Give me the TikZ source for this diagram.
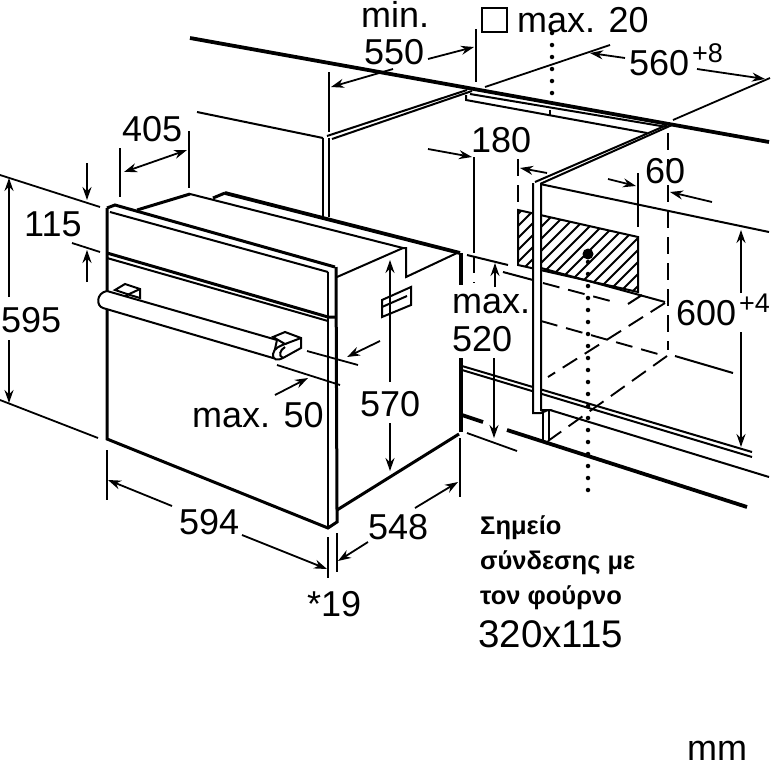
\documentclass[tikz,border=0pt]{standalone}
\usepackage{fontspec}
\setmainfont{Liberation Sans}
\usepackage{tikz}
\usetikzlibrary{arrows.meta}
\tikzset{
  wall/.style={line width=3.8pt},
  edge/.style={line width=3pt},
  fine/.style={line width=2pt},
  dimline/.style={line width=1.8pt},
  dimend/.style={dimline, -{Stealth[length=13pt,width=9pt]}},
  dimboth/.style={dimline, {Stealth[length=13pt,width=9pt]}-{Stealth[length=13pt,width=9pt]}},
  gapline/.style={line width=1.9pt, dash pattern=on 17pt off 9pt},
  dotline/.style={line width=4.5pt, line cap=round, dash pattern=on 0pt off 12pt},
  size/.style={inner sep=0pt, anchor=base west, font=\fontsize{36}{36}\selectfont},
  small/.style={inner sep=0pt, anchor=base west, font=\fontsize{27}{27}\selectfont},
  note/.style={inner sep=0pt, anchor=base west, font=\fontsize{25.5}{25.5}\selectfont\bfseries},
}
\begin{document}
\begin{tikzpicture}[x=1pt, y=-1pt]
\useasboundingbox (0,0) rectangle (772,769);
\fill[white] (0,0) rectangle (772,769);
\begin{scope}
\clip (518,210) -- (638,237) -- (638,292) -- (518,265) -- cycle;
\foreach \i in {0,...,18} {
  \draw[fine] (420+12*\i,300) -- (420+12*\i+100,200);
}
\end{scope}
\draw[fine] (518,210) -- (638,237) -- (638,292) -- (518,265) -- cycle;
\fill (588,254) circle (5.5);
\draw[dotline] (588,262) -- (588,492);
\draw[dotline] (552,33) -- (552,95);
\draw[wall] (190,38) -- (769,142);
\draw[fine] (323,138) -- (323,217);
\draw[fine] (329,138) -- (329,217);
\draw[fine] (197,112) -- (323,138);
\draw[fine] (327,136) -- (467,90);
\draw[fine] (332,139) -- (472,91);
\draw[fine] (466,95) -- (466,100) -- (647,133);
\draw[fine] (470,94) -- (667,127);
\draw[fine] (550,110) -- (550,116);
\draw[fine] (535,182) -- (667,125);
\draw[fine] (540,184) -- (672,125);
\draw[fine] (540,184) -- (769,232);
\draw[wall] (225,193) -- (460,253);
\draw[edge] (213,198) -- (225,193);
\draw[fine] (541,268) -- (665,302);
\draw[gapline] (541,321) -- (665,356);
\draw[fine] (675,356) -- (733,373);
\draw[gapline] (665,303) -- (548,377);
\draw[gapline] (667,356) -- (548,441);
\draw[gapline] (668,133) -- (668,350);
\draw[gapline] (518,159) -- (518,205);
\draw[fine] (467,255) -- (508,265);
\draw[fine] (503,272) -- (533,280);
\draw[gapline] (543,283) -- (618,303);
\draw[fine] (628,304) -- (642,295);
\draw[fine] (462,366) -- (752,452);
\draw[fine] (462,370) -- (752,457);
\draw[fine] (550,410) -- (769,477);
\draw[wall] (462,415) -- (483,422);
\draw[wall] (507,430) -- (747,507);
\draw[wall] (461,253) -- (461,285);
\draw[wall] (461,358) -- (461,432);
\draw[fine, fill=white] (533,183) -- (533,413) -- (541,413) -- (548,410) -- (541,410) -- (541,183);
\draw[fine] (543,413) -- (543,440);
\draw[fine] (549,410) -- (549,441);
\draw[fine] (190,194) -- (403,248) -- (406,248) -- (406,277) -- (457,253);
\draw[edge] (137,210) -- (190,194);
\draw[fine] (337,277) -- (403,248);
\draw[fine] (382,300) -- (411,287) -- (411,305) -- (382,317) -- cycle;
\draw[fine] (382,307) -- (407,296);
\draw[edge] (107,208) -- (115,205) -- (335,267);
\draw[edge] (107,208) -- (107,439) -- (328,528) -- (337,522) -- (337,510);
\draw[edge] (337,510) -- (459,434);
\draw[fine] (110,212) -- (328,272);
\draw[fine] (328,272) -- (328,528);
\draw[edge] (336,267) -- (337,510);
\draw[edge] (107,253) -- (328,317) -- (336,317);
\draw[fine] (107,258) -- (328,321);
\draw[fine, fill=white] (107,291) -- (277,340) -- (273,358) -- (103,308) .. controls (96,306) and (96,293) .. (107,291) -- cycle;
\draw[fine, fill=white] (115,290) -- (125,284) -- (140,289) -- (140,298) -- (130,295) -- cycle;
\draw[fine] (125,296) -- (140,289);
\draw[fine, fill=white] (273,337) -- (285,332) -- (301,338) -- (301,348) -- (283,358) .. controls (278,361) and (272,360) .. (273,354) .. controls (274,348) and (280,346) .. (285,344) -- cycle;
\draw[fine] (285,344) -- (301,338);
\draw[fine] (283,358) .. controls (278,356) and (280,350) .. (285,347);
\draw[dimboth] (124,172) -- (187,150);
\draw[dimline] (120,148) -- (120,197);
\draw[dimline] (189,131) -- (189,188);
\draw[dimend] (87,163) -- (87,200);
\draw[dimend] (87,282) -- (87,250);
\draw[dimline] (0,175) -- (100,207);
\draw[dimline] (72,243) -- (100,252);
\draw[dimend] (9,297) -- (9,178);
\draw[dimend] (9,340) -- (9,403);
\draw[dimline] (0,400) -- (98,438);
\draw[dimline] (107,450) -- (107,500);
\draw[dimline] (328,537) -- (328,578);
\draw[dimline] (337,533) -- (337,572);
\draw[dimline] (460,438) -- (460,497);
\draw[dimend] (172,506) -- (108,480);
\draw[dimend] (242,535) -- (327,569);
\draw[dimend] (415,508) -- (458,482);
\draw[dimend] (368,542) -- (338,561);
\draw[dimend] (390,382) -- (390,260);
\draw[dimend] (390,423) -- (390,471);
\draw[dimline] (307,351) -- (358,365);
\draw[dimline] (277,365) -- (340,385);
\draw[dimend] (380,341) -- (347,357);
\draw[dimend] (275,395) -- (308,378);
\draw[dimline] (329,72) -- (329,132);
\draw[dimline] (476,29) -- (476,82);
\draw[dimend] (428,59) -- (474,47);
\draw[dimend] (393,69) -- (331,87);
\draw[dimline] (485,87) -- (610,45);
\draw[dimline] (673,120) -- (770,78);
\draw[dimend] (625,58) -- (590,53);
\draw[dimend] (697,69) -- (765,79);
\draw[dimend] (428,149) -- (472,157);
\draw[dimline] (474,157) -- (474,253);
\draw[gapline] (474,256) -- (474,283);
\draw[dimend] (547,173) -- (520,168);
\draw[dimline] (638,173) -- (638,227);
\draw[dimend] (608,179) -- (636,186);
\draw[dimend] (712,202) -- (670,192);
\draw[dimend] (741,293) -- (741,230);
\draw[dimend] (741,332) -- (741,447);
\draw[dimend] (495,287) -- (495,263);
\draw[dimend] (494,358) -- (494,438);
\draw[dimline] (467,433) -- (517,451);
\draw[fine] (482,8) rectangle (507,32);
\node[size] (minlabel) at (361,27) {min.};
\node[size] (depthlabel) at (364,64) {550};
\node[size] (maxtwenty) at (517,32) {max. 20};
\node[size] (widthlabel) at (629,75) {560};
\node[small] (widthtol) at (692,62) {+8};
\node[size] (shelflabel) at (471,152) {180};
\node[size] (sixty) at (645,183) {60};
\node[size] (ovendepth) at (122,141) {405};
\node[size] (panellabel) at (24,236) {115};
\node[size] (heightlabel) at (1,332) {595};
\node[size] (maxfifty) at (192,427) {max. 50};
\node[size] (ovenbody) at (360,416) {570};
\node[size] (maxlabel) at (452,313) {max.};
\node[size] (fivetwenty) at (452,351) {520};
\node[size] (nichelabel) at (676,325) {600};
\node[small] (nichetol) at (739,312) {+4};
\node[size] (ovenwidth) at (179,534) {594};
\node[size] (sidedepth) at (368,539) {548};
\node[size] (offsetlabel) at (307,616) {*19};
\node[note] (notea) at (480,534) {Σημείο};
\node[note] (noteb) at (480,569) {σύνδεσης με};
\node[note] (notec) at (480,604) {τον φούρνο};
\node[inner sep=0pt, anchor=base west, font=\fontsize{38.5}{38.5}\selectfont] (cutout) at (478,647) {320x115};
\node[inner sep=0pt, anchor=base west, font=\fontsize{36}{36}\selectfont] (unitlabel) at (687,760) {mm};
\end{tikzpicture}
\end{document}
